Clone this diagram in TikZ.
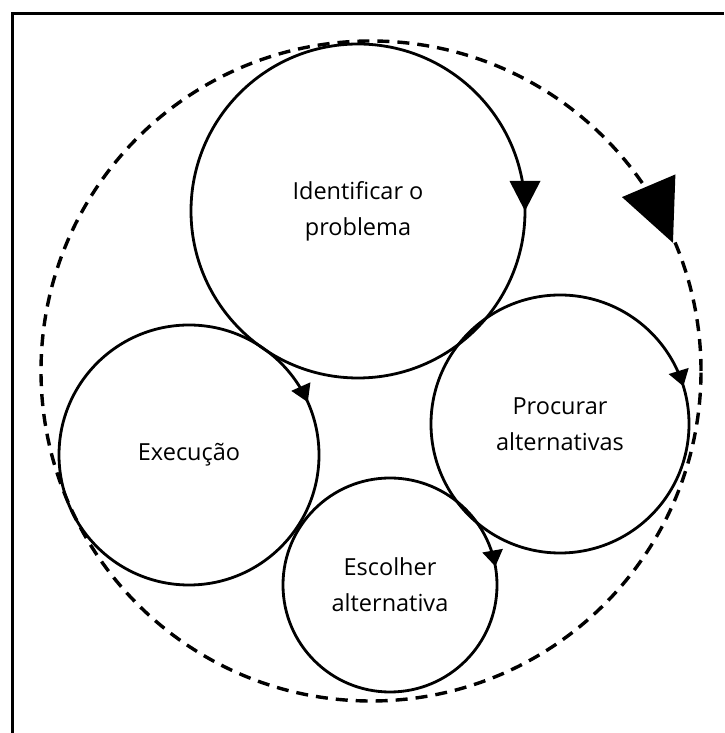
\documentclass[tikz,border=0pt]{standalone}
\usepackage{fontspec}
\setmainfont{Open Sans}
\newcommand\cwhead[5]{% node, radius, tip angle, length, half width
  \fill[shift={(#1.center)}, rotate=#3] (#2,0) -- (#2-#5,#4) -- (#2+#5,#4) -- cycle;}
\begin{document}
\begin{tikzpicture}[x=1pt,y=1pt]
\tikzset{
  stage/.style={circle, draw, line width=2.8pt, inner sep=0pt, align=center,
    font=\fontsize{23.5}{36}\selectfont},
  cycle/.style={circle, draw, line width=3.4pt, dash pattern=on 12pt off 8pt, inner sep=0pt},
  frame/.style={line width=3pt}
}
\useasboundingbox (0,0) rectangle (724,733);
\coordinate (fb) at (12,0);
\coordinate (fc) at (12,719);
\coordinate (fr) at (724,719);
\draw[frame] (fb) -- (fc) -- (fr);
\node[cycle, minimum size=660pt] (cyc) at (371,362) {};
\node[stage, minimum size=334pt] (idp) at (358,522) {Identificar o\\problema};
\node[stage, minimum size=260pt] (exe) at (189,278) {Execução};
\node[stage, minimum size=258pt] (pro) at (560,309) {Procurar\\alternativas};
\node[stage, minimum size=214pt] (esc) at (390,148) {Escolher\\alternativa};
\cwhead{idp}{167}{0}{30}{15.5}
\cwhead{exe}{130}{24}{17}{10.5}
\cwhead{pro}{129}{17}{16}{10.5}
\cwhead{esc}{107}{10}{16}{10.5}
\cwhead{cyc}{328}{23}{62}{29}
\end{tikzpicture}
\end{document}
